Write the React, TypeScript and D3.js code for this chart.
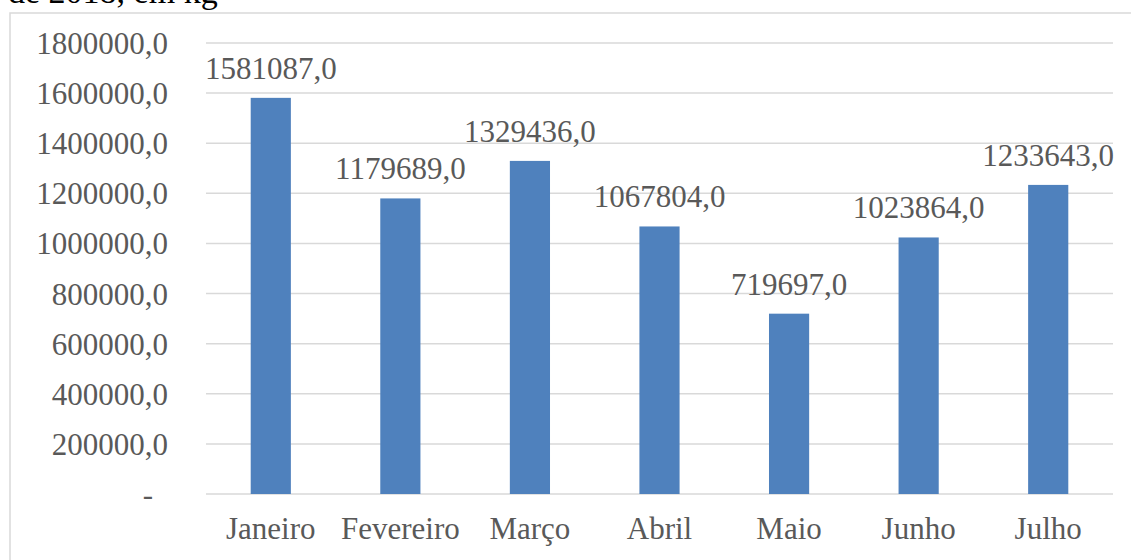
import React, { useRef, useEffect } from 'react';
import * as d3 from 'd3';

const months = ['Janeiro', 'Fevereiro', 'Março', 'Abril', 'Maio', 'Junho', 'Julho'];
const values = [1581087, 1179689, 1329436, 1067804, 719697, 1023864, 1233643];
const yTicks = [0, 200000, 400000, 600000, 800000, 1000000, 1200000, 1400000, 1600000, 1800000];
const titleTail = 'de 2018, em kg';

const fmt = (v: number) => (v === 0 ? '-' : `${v},0`);

const App = () => {
    const svgRef = useRef<SVGSVGElement>(null);

    useEffect(() => {
        const width = 1131;
        const height = 560;
        const svg = d3.select(svgRef.current);
        svg.selectAll('*').remove();
        svg.attr('width', width).attr('height', height);

        const font = '"Liberation Serif", "Times New Roman", serif';
        const grey = '#595959';

        // cut-off title line above the chart frame
        svg.append('text')
            .attr('x', 8)
            .attr('y', 3)
            .style('font-family', font)
            .style('font-size', '34px')
            .style('fill', '#000')
            .text(titleTail);

        // chart frame
        svg.append('rect')
            .attr('x', 10)
            .attr('y', 13)
            .attr('width', 1140)
            .attr('height', 600)
            .attr('fill', 'none')
            .attr('stroke', '#d9d9d9')
            .attr('stroke-width', 1.5);

        const x = d3.scaleBand()
            .domain(months)
            .range([206, 1113])
            .paddingInner(0.69)
            .paddingOuter(0.345);

        const y = d3.scaleLinear()
            .domain([0, 1800000])
            .range([494, 43]);

        // gridlines
        svg.append('g')
            .selectAll('line')
            .data(yTicks)
            .enter()
            .append('line')
            .attr('x1', 206)
            .attr('x2', 1113)
            .attr('y1', d => y(d))
            .attr('y2', d => y(d))
            .attr('stroke', '#d9d9d9')
            .attr('stroke-width', 1.5);

        // y tick labels
        svg.append('g')
            .selectAll('text')
            .data(yTicks)
            .enter()
            .append('text')
            .attr('x', d => (d === 0 ? 153 : 168))
            .attr('y', d => y(d) + 11)
            .attr('text-anchor', 'end')
            .style('font-family', font)
            .style('font-size', '31px')
            .style('fill', grey)
            .text(d => fmt(d));

        // bars
        svg.append('g')
            .selectAll('rect')
            .data(values)
            .enter()
            .append('rect')
            .attr('x', (d, i) => x(months[i])!)
            .attr('width', x.bandwidth())
            .attr('y', d => y(d))
            .attr('height', d => y(0) - y(d))
            .attr('fill', '#4f81bd');

        // value labels
        svg.append('g')
            .selectAll('text')
            .data(values)
            .enter()
            .append('text')
            .attr('x', (d, i) => x(months[i])! + x.bandwidth() / 2)
            .attr('y', d => y(d) - 19)
            .attr('text-anchor', 'middle')
            .style('font-family', font)
            .style('font-size', '31px')
            .style('fill', grey)
            .text(d => fmt(d));

        // category labels
        svg.append('g')
            .selectAll('text')
            .data(months)
            .enter()
            .append('text')
            .attr('x', d => x(d)! + x.bandwidth() / 2)
            .attr('y', 539)
            .attr('text-anchor', 'middle')
            .style('font-family', font)
            .style('font-size', '31px')
            .style('fill', grey)
            .text(d => d);
    }, []);

    return (
        <svg ref={svgRef} style={{ position: 'absolute', left: 0, top: 0, display: 'block', background: '#fff' }}></svg>
    );
};

export default App;
